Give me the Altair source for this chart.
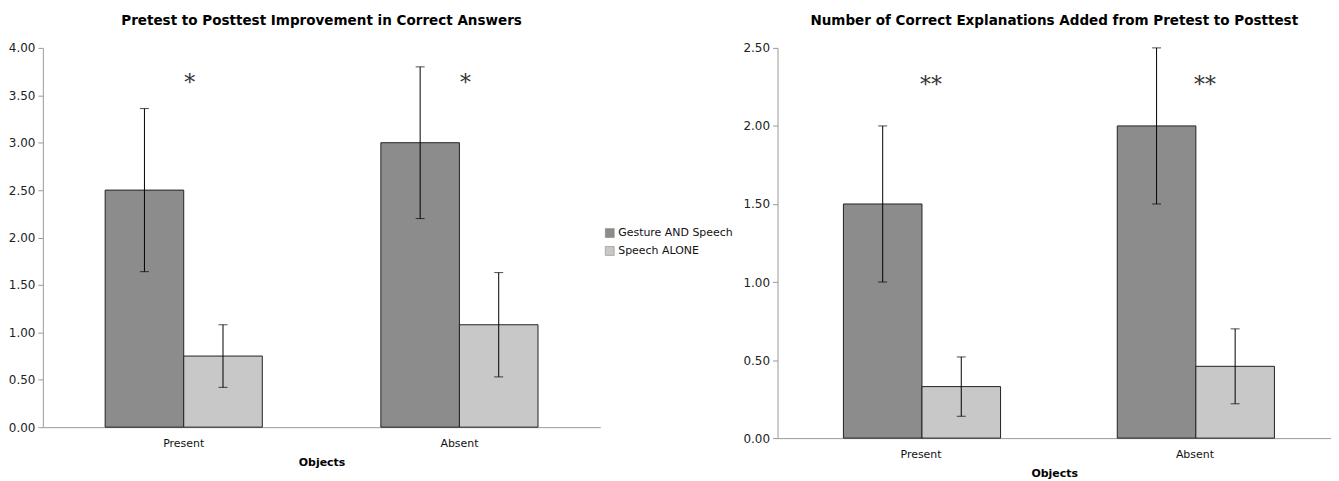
import altair as alt
import pandas as pd

objects = ["Present", "Absent"]
groups = ["Gesture AND Speech", "Speech ALONE"]

# order: Present-Gesture, Present-Speech, Absent-Gesture, Absent-Speech
left_means = [2.50, 0.75, 3.00, 1.08]
left_errs = [0.86, 0.33, 0.80, 0.55]
right_means = [1.50, 0.33, 2.00, 0.46]
right_errs = [0.50, 0.19, 0.50, 0.24]

left_stars = ["*", "*"]
left_star_y = [3.69, 3.69]
right_stars = ["**", "**"]
right_star_y = [2.30, 2.30]

left_ticks = [0, 0.5, 1.0, 1.5, 2.0, 2.5, 3.0, 3.5, 4.0]
right_ticks = [0, 0.5, 1.0, 1.5, 2.0, 2.5]

colors = ["#8c8c8c", "#c8c8c8"]
FONT = "DejaVu Sans"


def make_df(means, errs):
    rows = []
    i = 0
    for o in objects:
        for g in groups:
            rows.append(dict(Object=o, Group=g, Mean=means[i],
                             Lo=means[i] - errs[i], Hi=means[i] + errs[i]))
            i += 1
    return pd.DataFrame(rows)


def panel(means, errs, stars, star_y, ticks, title, width, height, pi, po,
          align, star_dx, legend):
    df = make_df(means, errs)
    sdf = pd.DataFrame({"Object": objects, "Star": stars, "Mean": star_y})
    ymax = ticks[-1]
    x = alt.X("Object:N", sort=objects,
              scale=alt.Scale(paddingInner=pi, paddingOuter=po, align=align),
              axis=alt.Axis(title="Objects", labelAngle=0, ticks=False,
                            domainColor="#999",
                            labelFont=FONT, labelFontSize=11, labelColor="#111",
                            labelPadding=10, titleFont=FONT, titleFontSize=11,
                            titleFontWeight="bold", titleColor="#000", titlePadding=9))
    xo = alt.XOffset("Group:N", sort=groups, scale=alt.Scale(paddingInner=0, paddingOuter=0))
    y = alt.Y("Mean:Q", scale=alt.Scale(domain=[0, ymax], nice=False),
              axis=alt.Axis(title=None, values=ticks, format=".2f", grid=False,
                            domainColor="#999", tickColor="#999", tickSize=5,
                            labelFont=FONT, labelFontSize=12, labelColor="#222",
                            labelPadding=3))
    if legend:
        leg = alt.Legend(title=None, orient="none", legendX=width + 4, legendY=height / 2 - 10,
                         symbolType="square", symbolSize=80, symbolStrokeColor="#777",
                         symbolStrokeWidth=0.5, labelFont=FONT, labelFontSize=11,
                         labelColor="#111", rowPadding=6, labelOffset=3)
    else:
        leg = None
    color = alt.Color("Group:N", sort=groups, scale=alt.Scale(domain=groups, range=colors),
                      legend=leg)
    bars = alt.Chart(df).mark_bar(stroke="#222", strokeWidth=1).encode(
        x=x, xOffset=xo, y=y, color=color)
    rules = alt.Chart(df).mark_rule(color="#000", strokeWidth=1).encode(
        x=x, xOffset=xo, y="Lo:Q", y2="Hi:Q")
    cap_lo = alt.Chart(df).mark_tick(color="#000", thickness=1, size=9, orient="horizontal").encode(
        x=x, xOffset=xo, y="Lo:Q")
    cap_hi = alt.Chart(df).mark_tick(color="#000", thickness=1, size=9, orient="horizontal").encode(
        x=x, xOffset=xo, y="Hi:Q")
    txt = alt.Chart(sdf).mark_text(font="DejaVu Serif", fontSize=22, dx=star_dx, dy=6,
                                   color="#333").encode(x=x, y="Mean:Q", text="Star:N")
    return alt.layer(bars, rules, cap_lo, cap_hi, txt).properties(
        width=width, height=height,
        title=alt.TitleParams(title, font=FONT, fontSize=13.6, fontWeight="bold",
                              color="#000", offset=14))


left = panel(left_means, left_errs, left_stars, left_star_y, left_ticks,
             "Pretest to Posttest Improvement in Correct Answers",
             560, 381, 0.43, 0.226, 0.5, 6, True)
right = panel(right_means, right_errs, right_stars, right_star_y, right_ticks,
              "Number of Correct Explanations Added from Pretest to Posttest",
              556, 392, 0.433, 0.227, 0.53, 10, False)

chart = alt.hconcat(left, right, spacing=178, bounds="flush").resolve_scale(
    color="independent", y="independent", x="independent"
).properties(
    padding={"left": 0, "top": 5, "right": 0, "bottom": 0}
).configure_view(stroke=None)

chart.save("out.html", embed_options={"renderer": "svg", "actions": False})
